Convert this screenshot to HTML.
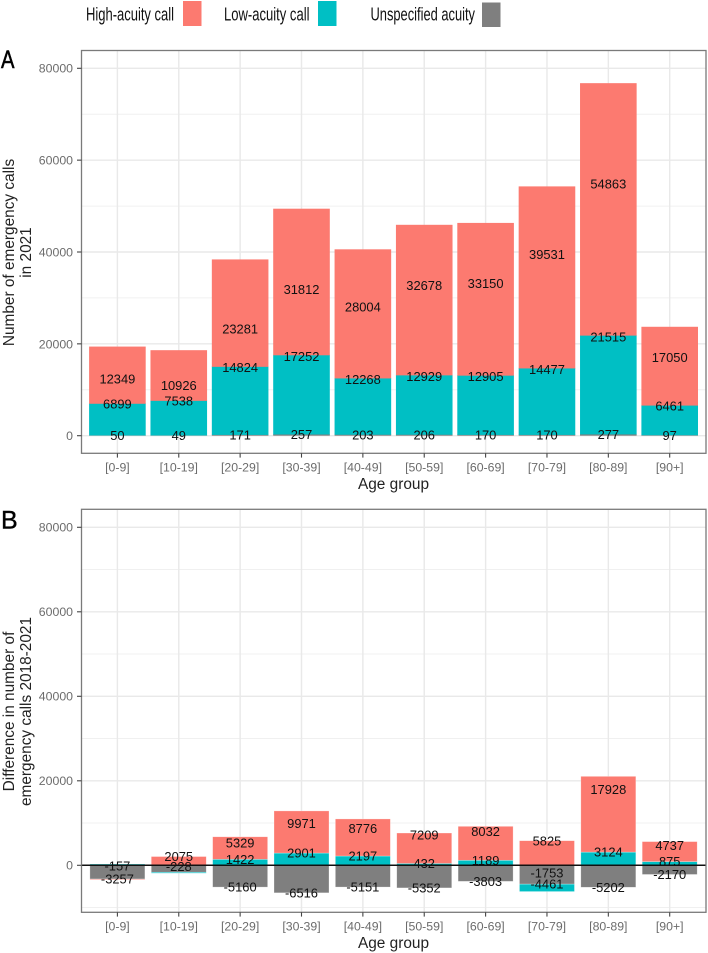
<!DOCTYPE html>
<html lang="en">
<head>
<meta charset="utf-8">
<title>Emergency calls by age group</title>
<style>
html,body{margin:0;padding:0;background:#fff;}
svg{display:block;font-family:"Liberation Sans",Arial,sans-serif;filter:blur(0.35px);}
</style>
</head>
<body>
<svg id="chart" xmlns="http://www.w3.org/2000/svg" width="708" height="953" viewBox="0 0 708 953">
  <rect x="0" y="0" width="708" height="953" fill="#ffffff"/>
  <g>
    <text x="86" y="20.5" font-size="18" fill="#111" textLength="88" lengthAdjust="spacingAndGlyphs">High-acuity call</text>
    <rect x="183" y="1" width="18.5" height="25" fill="#FC7A70"/>
    <text x="224" y="20.5" font-size="18" fill="#111" textLength="85.5" lengthAdjust="spacingAndGlyphs">Low-acuity call</text>
    <rect x="318" y="1" width="18.5" height="25" fill="#00BFC4"/>
    <text x="370.5" y="20.5" font-size="18" fill="#111" textLength="104.5" lengthAdjust="spacingAndGlyphs">Unspecified acuity</text>
    <rect x="482" y="2.5" width="18.5" height="24.5" fill="#7F7F7F"/>
  </g>
  <text x="1" y="68" font-size="25" fill="#000" stroke="#000" stroke-width="0.5" textLength="13.5" lengthAdjust="spacingAndGlyphs">A</text>
  <text x="1" y="528.5" font-size="25" fill="#000" stroke="#000" stroke-width="0.4">B</text>
  <text transform="translate(14,252.5) rotate(-90)" text-anchor="middle" font-size="15.4" fill="#222">Number of emergency calls</text>
  <text transform="translate(31,252.5) rotate(-90)" text-anchor="middle" font-size="15.4" fill="#222">in 2021</text>
  <text transform="translate(14,711.5) rotate(-90)" text-anchor="middle" font-size="15.4" fill="#222">Difference in number of</text>
  <text transform="translate(31,711.5) rotate(-90)" text-anchor="middle" font-size="15.4" fill="#222">emergency calls 2018-2021</text>
  <text x="393.5" y="489" text-anchor="middle" font-size="15.4" fill="#222">Age group</text>
  <text x="393.5" y="948" text-anchor="middle" font-size="15.4" fill="#222">Age group</text>
  <g id="panel-a"></g>
  <g id="panel-b"></g>
</svg>
<script>
const categories = ['[0-9]','[10-19]','[20-29]','[30-39]','[40-49]','[50-59]','[60-69]','[70-79]','[80-89]','[90+]'];
const seriesNames = ['high-acuity','low-acuity','unspecified'];
const calls2021High = [12349,10926,23281,31812,28004,32678,33150,39531,54863,17050];
const calls2021Low = [6899,7538,14824,17252,12268,12929,12905,14477,21515,6461];
const calls2021Unspecified = [50,49,171,257,203,206,170,170,277,97];
const diffHigh = [-157,2075,5329,9971,8776,7209,8032,5825,17928,4737];
const diffLow = [300,-228,1422,2901,2197,432,1189,-1753,3124,875];
const diffUnspecified = [-3257,-1650,-5160,-6516,-5151,-5352,-3803,-4461,-5202,-2170];
const diffLowPrinted = [null,-228,1422,2901,2197,432,1189,-1753,3124,875];
const diffUnspecifiedPrinted = [-3257,null,-5160,-6516,-5151,-5352,-3803,-4461,-5202,-2170];
const majorTicks = [0,20000,40000,60000,80000];
const minorTicksA = [10000,30000,50000,70000];
const minorTicksB = [-10000,10000,30000,50000,70000];

const SVGNS = 'http://www.w3.org/2000/svg';
const fills = {'high-acuity':'#FC7A70','low-acuity':'#00BFC4','unspecified':'#7F7F7F'};

function mk(parent, tag, attrs, content) {
  const el = document.createElementNS(SVGNS, tag);
  for (const k in attrs) el.setAttribute(k, attrs[k]);
  if (content !== undefined) el.textContent = content;
  parent.appendChild(el);
  return el;
}

function drawPanel(cfg) {
  const g = document.getElementById(cfg.id);
  const L = 81.5, R = 706;
  const x = i => 117.4 + i * (669.7 - 117.4) / (categories.length - 1);
  const y = v => cfg.zeroY - v * (cfg.zeroY - cfg.topTickY) / 80000;

  cfg.minor.forEach(v => {
    const ln = mk(g, 'line', {x1:L, x2:R, y1:y(v), y2:y(v), stroke:'#f0f0f0', 'stroke-width':1});
    
    
  });
  majorTicks.forEach(v => {
    const ln = mk(g, 'line', {x1:L, x2:R, y1:y(v), y2:y(v), stroke:'#e9e9e9', 'stroke-width':1.4});
    
    
  });
  categories.forEach((c, i) => {
    const ln = mk(g, 'line', {x1:x(i), x2:x(i), y1:cfg.top, y2:cfg.bottom, stroke:'#e9e9e9', 'stroke-width':1.4});
    
    
  });

  categories.forEach((c, i) => {
    let pos = 0, neg = 0;
    // Stacking order: unspecified nearest zero, then low, then high.
    const stack = [
      ['unspecified', cfg.unspecified[i]],
      ['low-acuity', cfg.low[i]],
      ['high-acuity', cfg.high[i]]
    ];
    stack.forEach(([name, val]) => {
      let a, b;
      if (val >= 0) { a = pos; b = pos + val; pos = b; }
      else { a = neg; b = neg + val; neg = b; }
      const top = Math.min(y(a), y(b));
      const h = Math.abs(y(a) - y(b));
      const bar = mk(g, 'rect', {x:x(i) - cfg.barW / 2, y:top - cfg.bleed, width:cfg.barW, height:h + cfg.bleed, fill:fills[name], stroke:cfg.barStroke, 'stroke-width':cfg.strokeW});
      
      
    });
  });

  if (cfg.zeroLine) {
    const z = mk(g, 'line', {x1:L, x2:R, y1:y(0), y2:y(0), stroke:'#111', 'stroke-width':1.5});
    
    
  }

  const printed = [cfg.high, cfg.lowPrinted, cfg.unspecifiedPrinted];
  printed.forEach((arr, s) => {
    arr.forEach((v, i) => {
      if (v === null) return;
      const t = mk(g, 'text', {x:x(i), y:y(v) + 4.6, 'text-anchor':'middle', 'font-size':12.9, fill:'#111'}, String(v));
      
      
    });
  });

  const border = mk(g, 'rect', {x:L, y:cfg.top, width:R - L, height:cfg.bottom - cfg.top, fill:'none', stroke:'#7a7a7a', 'stroke-width':1.3});
  
  

  majorTicks.forEach(v => {
    const tk = mk(g, 'line', {x1:77, x2:L, y1:y(v), y2:y(v), stroke:'#444', 'stroke-width':1.1});
    
    
    const lb = mk(g, 'text', {x:73, y:y(v) + 4.4, 'text-anchor':'end', 'font-size':12.3, fill:'#6c6c6c'}, String(v));
    
    
  });
  categories.forEach((c, i) => {
    const tk = mk(g, 'line', {x1:x(i), x2:x(i), y1:cfg.bottom, y2:cfg.bottom + 4.3, stroke:'#444', 'stroke-width':1.1});
    
    
    const lb = mk(g, 'text', {x:x(i), y:cfg.bottom + 18.2, 'text-anchor':'middle', 'font-size':12.3, fill:'#6c6c6c'}, c);
    
    
  });
}

drawPanel({
  id:'panel-a', top:50.5, bottom:453.3, zeroY:435.7, topTickY:68.3,
  high:calls2021High, low:calls2021Low, unspecified:calls2021Unspecified,
  lowPrinted:calls2021Low, unspecifiedPrinted:calls2021Unspecified,
  minor:minorTicksA, barW:56.6, barStroke:'none', strokeW:0, bleed:0.5, zeroLine:false
});
drawPanel({
  id:'panel-b', top:509.3, bottom:912.3, zeroY:865.3, topTickY:527.3,
  high:diffHigh, low:diffLow, unspecified:diffUnspecified,
  lowPrinted:diffLowPrinted, unspecifiedPrinted:diffUnspecifiedPrinted,
  minor:minorTicksB, barW:55, barStroke:'rgba(255,255,255,0.45)', strokeW:0.6, bleed:0, zeroLine:true
});
</script>
</body>
</html>
